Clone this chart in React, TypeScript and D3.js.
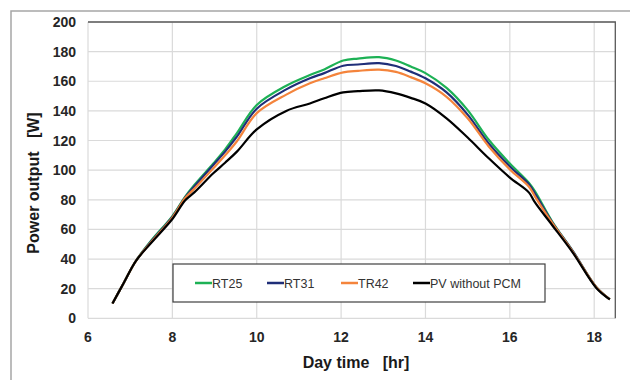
import React, { useRef, useEffect } from "react";
import * as d3 from "d3";

// day time [hr]
const hours = [6.58, 6.85, 7.13, 7.5, 8.0, 8.3, 8.52, 8.97, 9.25, 9.53, 10.0, 10.7, 11.26, 11.6, 12.05, 12.4, 12.9, 13.3, 13.65, 14.0, 14.5, 15.0, 15.5, 16.0, 16.45, 16.6, 17.0, 17.5, 18.05, 18.37];

const rt25 = [10, 24, 38.5, 52.5, 69, 82, 90, 104.5, 114, 125, 144, 157, 164.2, 168, 174, 175.3, 176.3, 174, 170, 165.5, 155.5, 140.5, 120.5, 104.5, 91.5, 85.5, 65.5, 45, 21, 12.8];
const rt31 = [10, 24, 38.5, 52, 68.5, 81.5, 89, 103.5, 112.5, 122.6, 141.5, 154.5, 162, 165.5, 170.5, 171.3, 172.2, 170.3, 166.5, 162, 152.5, 137.5, 118, 102.5, 90.5, 84, 65, 45, 21, 12.8];
const tr42 = [10, 24, 38.5, 51.5, 68, 81, 87.5, 101.2, 110, 119.5, 138.5, 151, 158.6, 162, 166, 167, 167.8, 166.3, 162.8, 158.6, 149.5, 135, 116, 100.5, 89, 82, 64.5, 44.5, 21, 12.8];
const pvNoPcm = [10, 24, 38.5, 51, 67, 79.5, 85, 97.9, 105, 112.5, 127.5, 140, 145, 148.5, 152.5, 153.3, 153.8, 151.8, 148.8, 145, 135, 122, 108, 95, 85, 78, 63, 44, 20.5, 12.8];

const seriesNames = ["RT25", "RT31", "TR42", "PV without PCM"];
const seriesColors = ["#1db155", "#1f2e78", "#f4843c", "#000000"];
const seriesValues = [rt25, rt31, tr42, pvNoPcm];

const xTicks = [6, 8, 10, 12, 14, 16, 18];
const yTicks = [0, 20, 40, 60, 80, 100, 120, 140, 160, 180, 200];

const FONT = "'Liberation Sans', Arial, sans-serif";

function PowerChart() {
    const ref = useRef(null);

    useEffect(() => {
        const svg = d3.select(ref.current);
        svg.selectAll("*").remove();

        const width = 630, height = 380;
        const left = 88, right = 615.3, top = 22, bottom = 318.3;

        const xScale = d3.scaleLinear().domain([6, 18.5]).range([left, right]);
        const yScale = d3.scaleLinear().domain([0, 200]).range([bottom, top]);

        svg.append("rect").attr("width", width).attr("height", height).attr("fill", "#fff");

        // outer frame (top + left only visible)
        svg.append("path")
            .attr("d", `M11,${height} L11,11 L${width},11`)
            .attr("fill", "none")
            .attr("stroke", "#a6a6a6")
            .attr("stroke-width", 1.5);

        // grid
        const grid = svg.append("g");
        grid.selectAll("line.h")
            .data(yTicks)
            .join("line")
            .attr("x1", left).attr("x2", right)
            .attr("y1", d => yScale(d)).attr("y2", d => yScale(d))
            .attr("stroke", "#dadada").attr("stroke-width", 1.2);
        grid.selectAll("line.v")
            .data(xTicks)
            .join("line")
            .attr("x1", d => xScale(d)).attr("x2", d => xScale(d))
            .attr("y1", top).attr("y2", bottom)
            .attr("stroke", "#dadada").attr("stroke-width", 1.2);

        // plot area border: dark on top and right
        svg.append("path")
            .attr("d", `M${left},${top} L${right},${top} L${right},${bottom}`)
            .attr("fill", "none")
            .attr("stroke", "#595959")
            .attr("stroke-width", 1.3);

        // tick labels
        svg.append("g").selectAll("text")
            .data(yTicks)
            .join("text")
            .attr("x", 76)
            .attr("y", d => yScale(d))
            .attr("dy", "0.36em")
            .attr("text-anchor", "end")
            .attr("font-family", FONT)
            .attr("font-weight", "bold")
            .attr("font-size", 14)
            .attr("fill", "#262626")
            .text(d => d);

        svg.append("g").selectAll("text")
            .data(xTicks)
            .join("text")
            .attr("x", d => xScale(d))
            .attr("y", 342)
            .attr("text-anchor", "middle")
            .attr("font-family", FONT)
            .attr("font-weight", "bold")
            .attr("font-size", 14)
            .attr("fill", "#262626")
            .text(d => d);

        // axis titles
        svg.append("text")
            .attr("transform", "translate(39,183) rotate(-90)")
            .attr("text-anchor", "middle")
            .attr("font-family", FONT)
            .attr("font-weight", "bold")
            .attr("font-size", 16)
            .attr("fill", "#1a1a1a")
            .style("white-space", "pre")
            .text("Power output   [W]");

        svg.append("text")
            .attr("x", 356)
            .attr("y", 368)
            .attr("text-anchor", "middle")
            .attr("font-family", FONT)
            .attr("font-weight", "bold")
            .attr("font-size", 16)
            .attr("fill", "#1a1a1a")
            .style("white-space", "pre")
            .text("Day time   [hr]");

        // lines
        const line = d3.line()
            .x(d => xScale(d[0]))
            .y(d => yScale(d[1]))
            .curve(d3.curveCatmullRom.alpha(0.5));

        seriesValues.forEach((vals, i) => {
            svg.append("path")
                .datum(hours.map((h, k) => [h, vals[k]]))
                .attr("fill", "none")
                .attr("stroke", seriesColors[i])
                .attr("stroke-width", 2.2)
                .attr("stroke-linejoin", "round")
                .attr("d", line);
        });

        // legend
        const lg = svg.append("g");
        lg.append("rect")
            .attr("x", 173).attr("y", 264)
            .attr("width", 372).attr("height", 38)
            .attr("fill", "#fff")
            .attr("stroke", "#404040")
            .attr("stroke-width", 1.2);
        const itemX = [195, 267, 341, 413];
        seriesNames.forEach((name, i) => {
            lg.append("line")
                .attr("x1", itemX[i]).attr("x2", itemX[i] + 17)
                .attr("y1", 283).attr("y2", 283)
                .attr("stroke", seriesColors[i])
                .attr("stroke-width", 2.5);
            lg.append("text")
                .attr("x", itemX[i] + 17)
                .attr("y", 283)
                .attr("dy", "0.36em")
                .attr("font-family", FONT)
                .attr("font-size", 12.5)
                .attr("fill", "#333")
                .text(name);
        });
    }, []);

    return (
        <svg ref={ref} width={630} height={380}
            style={{ position: "absolute", left: 0, top: 0, display: "block" }} />
    );
}

export default function App() {
    return <PowerChart />;
}
